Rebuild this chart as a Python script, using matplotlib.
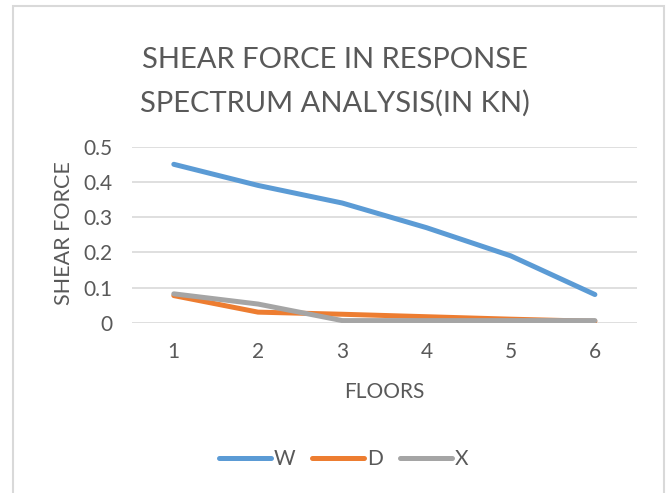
import matplotlib
matplotlib.use("Agg")
import matplotlib.pyplot as plt
from matplotlib.patches import Rectangle

###########################################################
###              Data
###########################################################
floors = [1, 2, 3, 4, 5, 6]
shear_w = [0.45, 0.39, 0.34, 0.27, 0.19, 0.08]
shear_d = [0.077, 0.03, 0.024, 0.017, 0.01, 0.004]
shear_x = [0.082, 0.053, 0.006, 0.006, 0.006, 0.006]
series_names = ['W', 'D', 'X']
y_ticks = [0, 0.1, 0.2, 0.3, 0.4, 0.5]
y_tick_labels = ['0', '0.1', '0.2', '0.3', '0.4', '0.5']

TEXT_COL = '#595959'
GRID_COL = '#D9D9D9'
COLORS = ['#5B9BD5', '#ED7D31', '#A5A5A5']

plt.rcParams['font.family'] = ['Lato', 'DejaVu Sans']

W, H = 669, 493
fig = plt.figure(figsize=(W/100, H/100), dpi=100)

# chart border (runs off the bottom of the image)
fig.patches.append(Rectangle((13/W, -0.05), (664-13)/W, 1.05 - 6/H,
                             transform=fig.transFigure, fill=False,
                             edgecolor=GRID_COL, linewidth=1.5))

# plot area in pixels: x 131.7..637, y 146.7..322.7
ax = fig.add_axes([131.7/W, 1-322.7/H, (637-131.7)/W, (322.7-146.7)/H])

for vals, col, name in zip([shear_w, shear_d, shear_x], COLORS, series_names):
    ax.plot(floors, vals, color=col, linewidth=3.6, solid_capstyle='round', label=name)

ax.set_xlim(0.5, 6.5)
ax.set_ylim(0, 0.5)
ax.set_yticks(y_ticks)
ax.set_yticklabels(y_tick_labels)
ax.set_xticks(floors)
ax.grid(axis='y', color=GRID_COL, linewidth=1.2)
ax.set_axisbelow(True)
for s in ax.spines.values():
    s.set_visible(False)
ax.tick_params(length=0, labelsize=15, colors=TEXT_COL)
ax.tick_params(axis='x', pad=14)
ax.tick_params(axis='y', pad=14)

ax.set_xlabel('FLOORS', fontsize=15, color=TEXT_COL)
ax.set_ylabel('SHEAR FORCE', fontsize=15.5, color=TEXT_COL)
ax.xaxis.set_label_coords(0.5, -0.337)
ax.yaxis.set_label_coords(-0.114, 0.507)

fig.text(0.5, 1-82/H, 'SHEAR FORCE IN RESPONSE\nSPECTRUM ANALYSIS(IN KN)',
         ha='center', va='center', fontsize=21, color=TEXT_COL, linespacing=1.74)

leg = fig.legend(loc='center', bbox_to_anchor=(343.5/W, 1-459/H), ncol=3, frameon=False,
                 fontsize=15, handlelength=2.5, columnspacing=0.8, handletextpad=0.15)
for t in leg.get_texts():
    t.set_color(TEXT_COL)

fig.savefig('out.png', dpi=100)
